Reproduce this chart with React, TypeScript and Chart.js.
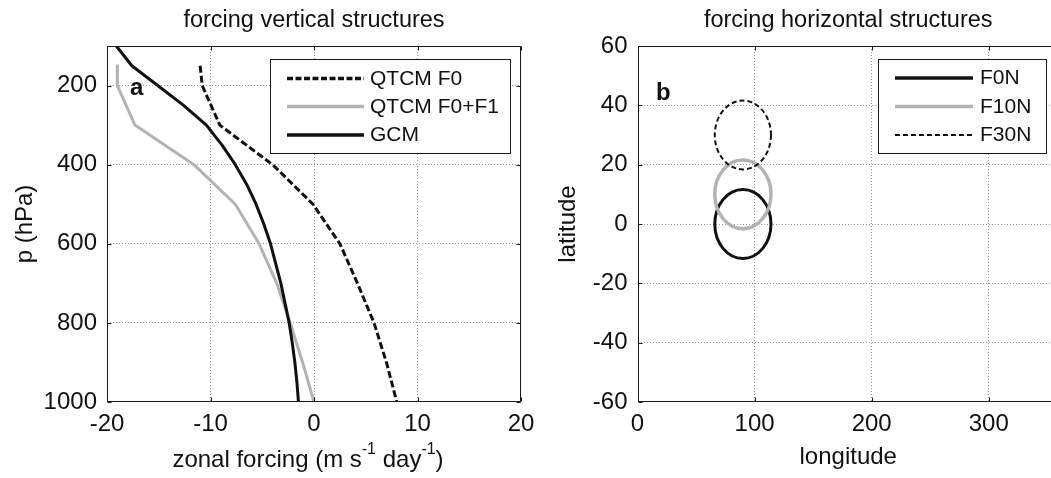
import React, { useEffect, useRef } from 'react';
import { Chart, registerables } from 'chart.js';

Chart.register(...registerables);

const FONT = '"Liberation Sans", Arial, Helvetica, sans-serif';
const INK = '#111111';
const GREY = '#b3b3b3';
const GRID = 'rgba(0,0,0,0.4)';

// Panel a: vertical structure of the zonal forcing (m s-1 day-1) against pressure (hPa)
const f0Pressure = [150, 200, 300, 400, 500, 600, 700, 800, 900, 1000];
const f0Forcing = [-11.0, -10.8, -9.1, -4.0, -0.1, 2.5, 4.2, 5.8, 7.0, 8.0];

const f0f1Pressure = [150, 200, 300, 400, 500, 600, 700, 800, 900, 1000];
const f0f1Forcing = [-19.0, -19.0, -17.3, -11.6, -7.6, -5.3, -3.6, -2.3, -1.1, 0.0];

const gcmPressure = [100, 150, 200, 250, 300, 350, 400, 450, 500, 550, 600, 650, 700, 750, 800, 850, 900, 950, 1000];
const gcmForcing = [-19.1, -17.6, -15.1, -12.6, -10.4, -8.9, -7.6, -6.5, -5.6, -4.85, -4.2, -3.7, -3.2, -2.8, -2.4, -2.1, -1.85, -1.65, -1.5];

const profileNames = ['QTCM F0', 'QTCM F0+F1', 'GCM'];
const forcingTicks = [-20, -10, 0, 10, 20];
const pressureTicks = [200, 400, 600, 800, 1000];

// Panel b: horizontal extent of the forcing patches (degrees)
const patchNames = ['F0N', 'F10N', 'F30N'];
const patchLon = [90, 90, 90];
const patchLat = [0, 10, 30];
const patchHalfLon = [24, 24, 24];
const patchHalfLat = [11.6, 11.6, 11.6];
const lonTicks = [0, 100, 200, 300];
const latTicks = [-60, -40, -20, 0, 20, 40, 60];

const profileStyles = [
  { color: INK, width: 3, dash: [7, 3], legendDash: [6, 2.5], legendWidth: 3.5 },
  { color: GREY, width: 3, dash: [] as number[], legendDash: [] as number[], legendWidth: 3.5 },
  { color: INK, width: 3, dash: [] as number[], legendDash: [] as number[], legendWidth: 3.5 },
];
const patchStyles = [
  { color: INK, width: 3, dash: [] as number[], legendDash: [] as number[], legendWidth: 3.5 },
  { color: GREY, width: 3.5, dash: [] as number[], legendDash: [] as number[], legendWidth: 3.5 },
  { color: INK, width: 2, dash: [5, 3], legendDash: [5, 3], legendWidth: 2 },
];

const tickFont = { family: FONT, size: 24 };

function gridOpts(edges: number[]) {
  return {
    color: (c: any) => (c.tick && edges.includes(c.tick.value) ? 'rgba(0,0,0,0)' : GRID),
    lineWidth: 1,
    drawTicks: false,
  };
}

function strokeFrame(chart: any) {
  const { ctx, chartArea: a } = chart;
  const l = Math.round(a.left) + 0.5;
  const t = Math.round(a.top) + 0.5;
  const r = Math.round(a.right) - 0.5;
  const b = Math.round(a.bottom) - 0.5;
  ctx.save();
  ctx.setLineDash([]);
  ctx.strokeStyle = '#1a1a1a';
  ctx.lineWidth = 1;
  ctx.strokeRect(l, t, r - l, b - t);
  const xs = chart.scales.x;
  const ys = chart.scales.y;
  ctx.beginPath();
  for (const tk of xs.ticks) {
    const p = Math.round(xs.getPixelForValue(tk.value)) + 0.5;
    ctx.moveTo(p, b); ctx.lineTo(p, b - 4);
    ctx.moveTo(p, t); ctx.lineTo(p, t + 4);
  }
  for (const tk of ys.ticks) {
    const p = Math.round(ys.getPixelForValue(tk.value)) + 0.5;
    ctx.moveTo(l, p); ctx.lineTo(l + 4, p);
    ctx.moveTo(r, p); ctx.lineTo(r - 4, p);
  }
  ctx.stroke();
  ctx.restore();
}

function drawLegend(
  ctx: CanvasRenderingContext2D,
  box: { x: number; y: number; w: number; h: number },
  rows: number[],
  names: string[],
  styles: typeof profileStyles,
  x0: number,
  x1: number,
  textX: number,
) {
  ctx.save();
  ctx.fillStyle = '#ffffff';
  ctx.fillRect(box.x, box.y, box.w, box.h);
  ctx.strokeStyle = '#1a1a1a';
  ctx.lineWidth = 1;
  ctx.setLineDash([]);
  ctx.strokeRect(box.x + 0.5, box.y + 0.5, box.w, box.h);
  ctx.font = `21px ${FONT}`;
  ctx.textAlign = 'left';
  ctx.textBaseline = 'middle';
  ctx.fillStyle = INK;
  names.forEach((name, i) => {
    const st = styles[i];
    ctx.beginPath();
    ctx.strokeStyle = st.color;
    ctx.lineWidth = st.legendWidth;
    ctx.setLineDash(st.legendDash);
    ctx.moveTo(x0, rows[i]);
    ctx.lineTo(x1, rows[i]);
    ctx.stroke();
    ctx.fillText(name, textX, rows[i] + 0.5);
  });
  ctx.restore();
}

function drawTitle(chart: any, text: string) {
  const { ctx, chartArea: a } = chart;
  ctx.save();
  ctx.font = `23.5px ${FONT}`;
  ctx.fillStyle = INK;
  ctx.textAlign = 'center';
  ctx.textBaseline = 'alphabetic';
  ctx.fillText(text, (a.left + a.right) / 2, 27);
  ctx.restore();
}

function drawPanelLetter(ctx: CanvasRenderingContext2D, letter: string, x: number, y: number) {
  ctx.save();
  ctx.font = `bold 24px ${FONT}`;
  ctx.fillStyle = INK;
  ctx.textAlign = 'left';
  ctx.textBaseline = 'alphabetic';
  ctx.fillText(letter, x, y);
  ctx.restore();
}

// x-axis title of panel a, with superscript exponents
const forcingUnitParts = [
  { text: 'zonal forcing (m s', sup: false },
  { text: '-1', sup: true },
  { text: ' day', sup: false },
  { text: '-1', sup: true },
  { text: ')', sup: false },
];

function drawForcingTitle(ctx: CanvasRenderingContext2D, cx: number, baseline: number) {
  ctx.save();
  ctx.fillStyle = INK;
  ctx.textAlign = 'left';
  ctx.textBaseline = 'alphabetic';
  const fontFor = (sup: boolean) => (sup ? `16px ${FONT}` : `24px ${FONT}`);
  let total = 0;
  for (const p of forcingUnitParts) {
    ctx.font = fontFor(p.sup);
    total += ctx.measureText(p.text).width;
  }
  let x = cx - total / 2;
  for (const p of forcingUnitParts) {
    ctx.font = fontFor(p.sup);
    ctx.fillText(p.text, x, p.sup ? baseline - 13 : baseline);
    x += ctx.measureText(p.text).width;
  }
  ctx.restore();
}

const panelAPlugin = {
  id: 'panelA',
  afterDraw(chart: any) {
    const { ctx } = chart;
    strokeFrame(chart);
    drawTitle(chart, 'forcing vertical structures');
    drawForcingTitle(ctx, 308, 467);
    drawPanelLetter(ctx, 'a', 130, 95);
    drawLegend(ctx, { x: 270, y: 59, w: 240, h: 94 }, [78.5, 106.5, 135], profileNames, profileStyles, 287, 364, 370);
  },
};

const panelBPlugin = {
  id: 'panelB',
  afterDatasetsDraw(chart: any) {
    const { ctx, chartArea: a, scales } = chart;
    const xs = scales.x;
    const ys = scales.y;
    ctx.save();
    ctx.beginPath();
    ctx.rect(a.left, a.top, a.right - a.left, a.bottom - a.top);
    ctx.clip();
    patchNames.forEach((_, i) => {
      const st = patchStyles[i];
      const cx = xs.getPixelForValue(patchLon[i]);
      const cy = ys.getPixelForValue(patchLat[i]);
      const rx = Math.abs(xs.getPixelForValue(patchLon[i] + patchHalfLon[i]) - cx);
      const ry = Math.abs(ys.getPixelForValue(patchLat[i] + patchHalfLat[i]) - cy);
      ctx.beginPath();
      ctx.strokeStyle = st.color;
      ctx.lineWidth = st.width;
      ctx.setLineDash(st.dash);
      ctx.ellipse(cx, cy, rx, ry, 0, 0, Math.PI * 2);
      ctx.stroke();
    });
    ctx.restore();
  },
  afterDraw(chart: any) {
    const { ctx } = chart;
    strokeFrame(chart);
    drawTitle(chart, 'forcing horizontal structures');
    drawPanelLetter(ctx, 'b', 126, 100);
    drawLegend(ctx, { x: 348, y: 59, w: 168, h: 94 }, [78, 106.5, 135], patchNames, patchStyles, 365, 443, 450);
  },
};

function buildPanelA(canvas: HTMLCanvasElement) {
  const pressures = [f0Pressure, f0f1Pressure, gcmPressure];
  const forcings = [f0Forcing, f0f1Forcing, gcmForcing];
  const drawOrder = [2, 1, 0];
  return new Chart(canvas, {
    type: 'scatter',
    data: {
      datasets: profileNames.map((name, i) => ({
        label: name,
        data: pressures[i].map((p, k) => ({ x: forcings[i][k], y: p })),
        showLine: true,
        borderColor: profileStyles[i].color,
        borderWidth: profileStyles[i].width,
        borderDash: profileStyles[i].dash,
        borderJoinStyle: 'round',
        pointRadius: 0,
        fill: false,
        tension: 0,
        order: drawOrder[i],
      })),
    },
    options: {
      animation: false,
      responsive: false,
      events: [],
      layout: { padding: { left: 0, top: 46, right: 29, bottom: 0 } },
      plugins: { legend: { display: false }, tooltip: { enabled: false }, title: { display: false } },
      scales: {
        x: {
          type: 'linear',
          min: -20,
          max: 20,
          afterBuildTicks: (s: any) => { s.ticks = forcingTicks.map((value) => ({ value })); },
          afterFit: (s: any) => { s.height = 76; },
          ticks: { font: tickFont, color: INK, padding: 8, autoSkip: false, maxRotation: 0, callback: (v: any) => String(v) },
          grid: gridOpts([-20, 20]),
          border: { display: false, dash: [1, 2] },
        },
        y: {
          type: 'linear',
          reverse: true,
          min: 100,
          max: 1000,
          afterBuildTicks: (s: any) => { s.ticks = pressureTicks.map((value) => ({ value })); },
          afterFit: (s: any) => { s.width = 107; },
          ticks: { font: tickFont, color: INK, padding: 10, autoSkip: false, callback: (v: any) => String(v) },
          grid: gridOpts([100, 1000]),
          border: { display: false, dash: [1, 2] },
          title: { display: true, text: 'p (hPa)', font: tickFont, color: INK, padding: { top: 10.5, bottom: 0 } },
        },
      },
    } as any,
    plugins: [panelAPlugin],
  });
}

function buildPanelB(canvas: HTMLCanvasElement) {
  return new Chart(canvas, {
    type: 'scatter',
    data: { datasets: [] },
    options: {
      animation: false,
      responsive: false,
      events: [],
      layout: { padding: { left: 0, top: 46, right: 31, bottom: 0 } },
      plugins: { legend: { display: false }, tooltip: { enabled: false }, title: { display: false } },
      scales: {
        x: {
          type: 'linear',
          min: 0,
          max: 360,
          afterBuildTicks: (s: any) => { s.ticks = lonTicks.map((value) => ({ value })); },
          afterFit: (s: any) => { s.height = 76; },
          ticks: { font: tickFont, color: INK, padding: 8, autoSkip: false, maxRotation: 0, callback: (v: any) => String(v) },
          grid: gridOpts([0, 360]),
          border: { display: false, dash: [1, 2] },
          title: { display: true, text: 'longitude', font: tickFont, color: INK, padding: { top: 0, bottom: 6 } },
        },
        y: {
          type: 'linear',
          min: -60,
          max: 60,
          afterBuildTicks: (s: any) => { s.ticks = latTicks.map((value) => ({ value })); },
          afterFit: (s: any) => { s.width = 107.5; },
          ticks: { font: tickFont, color: INK, padding: 10, autoSkip: false, callback: (v: any) => String(v) },
          grid: gridOpts([-60, 60]),
          border: { display: false, dash: [1, 2] },
          title: { display: true, text: 'latitude', font: tickFont, color: INK, padding: { top: 23.5, bottom: 0 } },
        },
      },
    } as any,
    plugins: [panelBPlugin],
  });
}

export default function App() {
  const refA = useRef<HTMLCanvasElement>(null);
  const refB = useRef<HTMLCanvasElement>(null);

  useEffect(() => {
    const a = buildPanelA(refA.current!);
    const b = buildPanelB(refB.current!);
    return () => {
      a.destroy();
      b.destroy();
    };
  }, []);

  return (
    <div style={{ position: 'fixed', left: 0, top: 0, width: 1051, height: 478, overflow: 'hidden', background: '#ffffff' }}>
      <canvas ref={refA} width={550} height={478} style={{ position: 'absolute', left: 0, top: 0, width: 550, height: 478 }} />
      <canvas ref={refB} width={560} height={478} style={{ position: 'absolute', left: 530, top: 0, width: 560, height: 478 }} />
    </div>
  );
}
